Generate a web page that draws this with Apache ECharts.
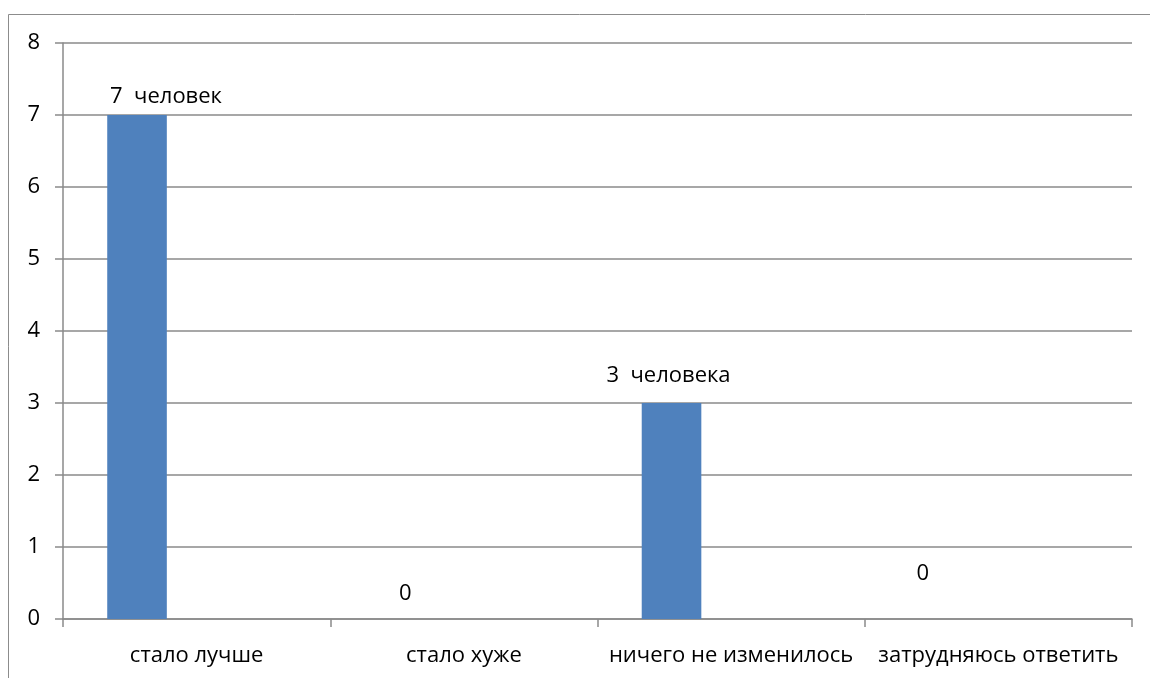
<!DOCTYPE html>
<html>
<head>
<meta charset="utf-8">
<script src="https://cdn.jsdelivr.net/npm/echarts@6/dist/echarts.min.js"></script>
<style>
  html, body { margin: 0; padding: 0; background: #fff; }
  #chart { width: 1150px; height: 678px; }
</style>
</head>
<body>
<div id="chart"></div>
<script>
// Survey answers and respondent counts
const categories = ['стало лучше', 'стало хуже', 'ничего не изменилось', 'затрудняюсь ответить'];
const counts = [7, 0, 3, 0];
const unitWords = ['человек', '', 'человека', ''];
const yTicks = [0, 1, 2, 3, 4, 5, 6, 7, 8];

// Per-bar label placement (distance above bar top, horizontal shift)
const labelDistance = [7, 14, 16, 34];
const labelShiftX = [29, 1, -3, -16];

const FONT = '"Open Sans", "Noto Sans", sans-serif';
const FONT_SIZE = 22;
const GRID_GRAY = '#8a8a8a';

const chart = echarts.init(document.getElementById('chart'), null, { renderer: 'canvas' });

const mainData = counts.map((v, i) => ({
  value: v,
  label: {
    show: true,
    position: 'top',
    distance: labelDistance[i],
    offset: [labelShiftX[i], 0],
    formatter: unitWords[i] ? (v + '  ' + unitWords[i]) : String(v)
  }
}));

chart.setOption({
  animation: false,
  backgroundColor: '#ffffff',
  textStyle: { fontFamily: FONT },
  graphic: [{
    type: 'polyline',
    shape: { points: [[8.5, 690], [8.5, 14.5], [1160, 14.5]] },
    style: { stroke: '#8c8c8c', lineWidth: 1, fill: null },
    silent: true
  }],
  grid: { left: 63, right: 18, top: 43, bottom: 59, containLabel: false },
  xAxis: {
    type: 'category',
    data: categories,
    axisLine: { show: true, lineStyle: { color: GRID_GRAY, width: 1.5 } },
    axisTick: { show: true, length: 8, alignWithLabel: false, lineStyle: { color: GRID_GRAY, width: 1.5 } },
    axisLabel: { color: '#000', fontSize: FONT_SIZE, fontFamily: FONT, margin: 26, interval: 0 },
    splitLine: { show: false }
  },
  yAxis: {
    type: 'value',
    min: yTicks[0],
    max: yTicks[yTicks.length - 1],
    interval: 1,
    axisLine: { show: true, lineStyle: { color: GRID_GRAY, width: 1.5 } },
    axisTick: { show: true, inside: false, length: 8, lineStyle: { color: GRID_GRAY, width: 1.5 } },
    axisLabel: { color: '#000', fontSize: FONT_SIZE, fontFamily: FONT, margin: 23 },
    splitLine: { show: true, lineStyle: { color: GRID_GRAY, width: 1.5 } }
  },
  series: [
    {
      name: 'Ряд1',
      type: 'bar',
      data: mainData,
      barGap: '0%',
      barCategoryGap: '33.1%',
      itemStyle: { color: '#4f81bd' },
      label: { color: '#000', fontSize: FONT_SIZE, fontFamily: FONT }
    },
    { name: 'Ряд2', type: 'bar', data: [null, null, null, null], barGap: '0%', barCategoryGap: '33.1%' },
    { name: 'Ряд3', type: 'bar', data: [null, null, null, null], barGap: '0%', barCategoryGap: '33.1%' }
  ]
});
</script>
</body>
</html>
